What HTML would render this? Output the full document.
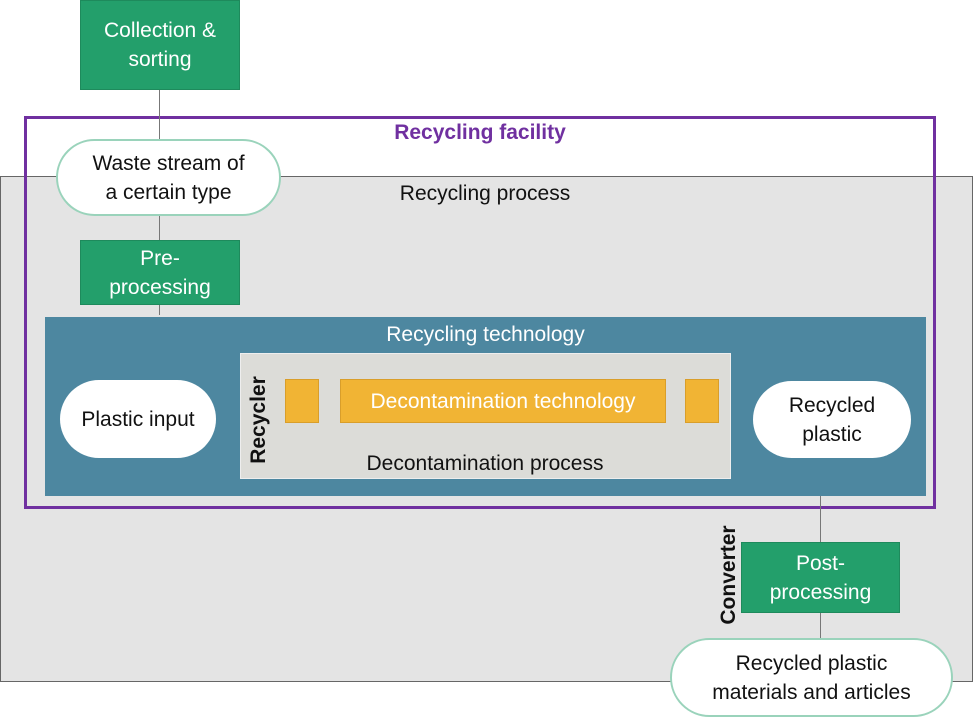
<!DOCTYPE html>
<html><head><meta charset="utf-8"><style>
body{margin:0;width:975px;height:721px;position:relative;background:#fff;font-family:"Liberation Sans",sans-serif;overflow:hidden}
div{position:absolute;box-sizing:border-box}
.c{display:flex;align-items:center;justify-content:center;text-align:center;line-height:29px;font-size:21px}
.g{background:#239f6b;color:#fff;border:1px solid #1e8a5c}
.p{background:#fff;border:2px solid #9ad3bb;border-radius:40px;color:#111}
.pw{background:#fff;border-radius:40px;color:#111}
.o{background:#f1b434;border:1px solid #d99e2a;color:#fff}
.l{background:#777;width:1px}
</style></head><body>
<div style="left:0;top:176px;width:973px;height:506px;background:#e4e4e4;border:1.5px solid #666"></div>
<div class="c" style="left:240px;top:178px;width:490px;height:30px;color:#111">Recycling process</div>
<div style="left:24px;top:116px;width:912px;height:393px;border:3px solid #7030a0"></div>
<div class="c" style="left:24px;top:118px;width:912px;height:28px;color:#7030a0;font-weight:bold">Recycling facility</div>
<div class="l" style="left:159px;top:90px;height:50px"></div>
<div class="l" style="left:159px;top:215px;height:100px"></div>
<div class="c g" style="left:80px;top:0;width:160px;height:90px">Collection &amp;<br>sorting</div>
<div class="c p" style="left:56px;top:139px;width:225px;height:77px">Waste stream of<br>a certain type</div>
<div class="c g" style="left:80px;top:240px;width:160px;height:65px">Pre-<br>processing</div>
<div style="left:45px;top:317px;width:881px;height:179px;background:#4d87a0"></div>
<div class="c" style="left:45px;top:319px;width:881px;height:30px;color:#fff">Recycling technology</div>
<div style="left:240px;top:353px;width:491px;height:126px;background:#dcdcd8;border:1px solid #eee"></div>
<div class="o" style="left:285px;top:379px;width:34px;height:44px"></div>
<div class="c o" style="left:340px;top:379px;width:326px;height:44px">Decontamination technology</div>
<div class="o" style="left:685px;top:379px;width:34px;height:44px"></div>
<div class="c" style="left:240px;top:448px;width:490px;height:30px;color:#111">Decontamination process</div>
<div class="c" style="left:210px;top:408px;width:96px;height:24px;transform:rotate(-90deg);font-weight:bold;color:#111">Recycler</div>
<div class="c pw" style="left:60px;top:380px;width:156px;height:78px">Plastic input</div>
<div class="c pw" style="left:753px;top:381px;width:158px;height:77px">Recycled<br>plastic</div>
<div class="l" style="left:820px;top:496px;height:142px"></div>
<div class="c g" style="left:741px;top:542px;width:159px;height:71px">Post-<br>processing</div>
<div class="c" style="left:666px;top:562px;width:124px;height:26px;transform:rotate(-90deg);font-weight:bold;color:#111">Converter</div>
<div class="c p" style="left:670px;top:638px;width:283px;height:79px">Recycled plastic<br>materials and articles</div>
</body></html>
